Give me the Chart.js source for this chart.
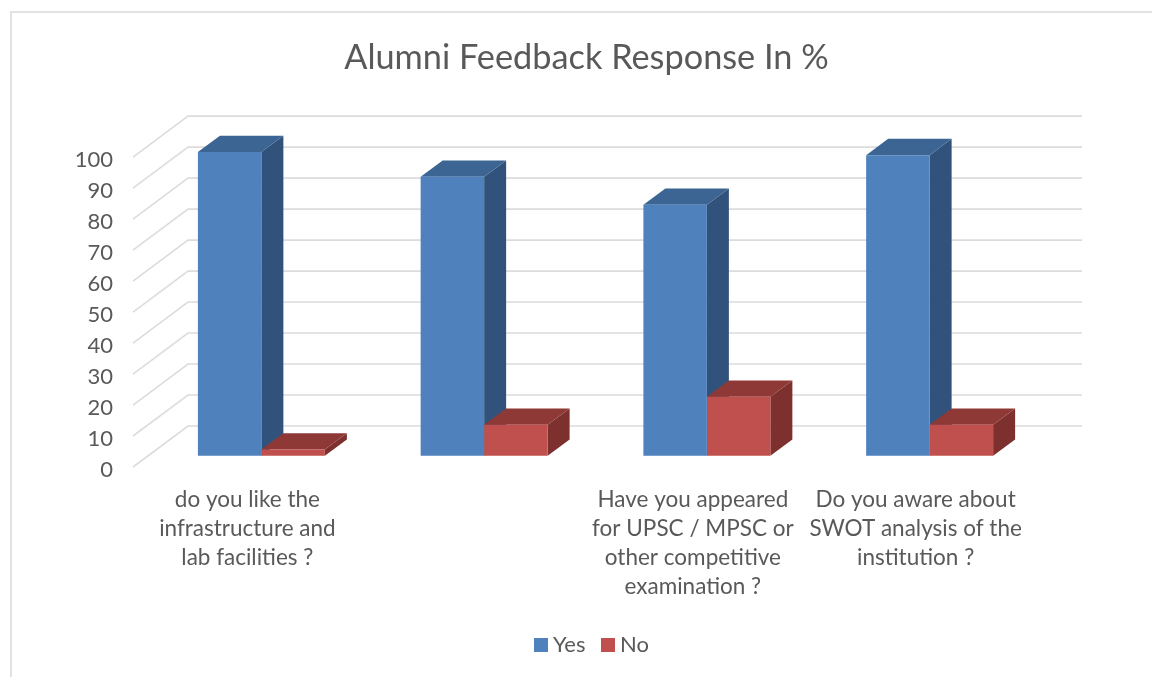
<!DOCTYPE html>
<html>
<head>
<meta charset="utf-8">
<script src="https://cdn.jsdelivr.net/npm/chart.js@4"></script>
<style>
  html, body { margin: 0; padding: 0; background: #fff; overflow: hidden; }
  #frame { position: absolute; left: 10px; top: 11px; right: 0; bottom: 0; border-left: 2px solid #e2e2e2; border-top: 2px solid #e2e2e2; }
  canvas { position: absolute; left: 0; top: 0; }
</style>
</head>
<body>
<div id="frame"></div>
<canvas id="chart" width="1152" height="677"></canvas>
<script>
var categories = [
  ["do you like the", "infrastructure and", "lab facilities ?"],
  "",
  ["Have you appeared", "for UPSC / MPSC or", "other competitive", "examination ?"],
  ["Do you aware about", "SWOT analysis of the", "institution ?"]
];
var yesValues = [98, 90, 81, 97];
var noValues = [2, 10, 19, 10];
var tickStep = 10;

var textColor = "#595959";
var gridColor = "#dcdcdc";
var fontName = "Lato, 'Open Sans', sans-serif";

// depth of the fake 3D box
var wallX = 55, wallY = 41, wallExtra = 3;
var planeX = 17, planeY = 11.3;
var barDepthX = 22, barDepthY = 16.3;
var faces = [
  { top: "#3c6594", side: "#31527a" },
  { top: "#8f3937", side: "#7d302e" }
];

var wallPlugin = {
  id: "wall",
  beforeDatasetsDraw: function (chart) {
    var ctx = chart.ctx, x = chart.scales.x, y = chart.scales.y;
    ctx.save();
    ctx.strokeStyle = gridColor;
    ctx.lineWidth = 1.6;
    y.ticks.forEach(function (tick) {
      var py = y.getPixelForValue(tick.value);
      ctx.beginPath();
      ctx.moveTo(x.left, py);
      ctx.lineTo(x.left + wallX, py - wallY);
      ctx.lineTo(x.right + wallX + wallExtra, py - wallY);
      ctx.stroke();
    });
    ctx.restore();

    // bars stand part way into the box, library draws the front faces after this
    ctx.save();
    ctx.translate(planeX, -planeY);
    chart.data.datasets.forEach(function (ds, d) {
      chart.getDatasetMeta(d).data.forEach(function (bar) {
        var l = bar.x - bar.width / 2, r = bar.x + bar.width / 2;
        ctx.fillStyle = faces[d].side;
        ctx.beginPath();
        ctx.moveTo(r, bar.y);
        ctx.lineTo(r + barDepthX, bar.y - barDepthY);
        ctx.lineTo(r + barDepthX, bar.base - barDepthY);
        ctx.lineTo(r, bar.base);
        ctx.closePath();
        ctx.fill();
        ctx.fillStyle = faces[d].top;
        ctx.beginPath();
        ctx.moveTo(l, bar.y);
        ctx.lineTo(r, bar.y);
        ctx.lineTo(r + barDepthX, bar.y - barDepthY);
        ctx.lineTo(l + barDepthX, bar.y - barDepthY);
        ctx.closePath();
        ctx.fill();
      });
    });
  },
  afterDatasetsDraw: function (chart) {
    chart.ctx.restore();
  }
};

// the built in legend leaves too wide a gap after the box
var keyPlugin = {
  id: "key",
  afterDraw: function (chart) {
    var ctx = chart.ctx, px = 534, py = 645;
    ctx.save();
    ctx.font = "22px " + fontName;
    ctx.textBaseline = "middle";
    chart.data.datasets.forEach(function (ds) {
      ctx.fillStyle = ds.backgroundColor;
      ctx.fillRect(px, py - 7, 14, 14);
      ctx.fillStyle = textColor;
      ctx.fillText(ds.label, px + 19, py);
      px += 67;
    });
    ctx.restore();
  }
};

new Chart(document.getElementById("chart"), {
  type: "bar",
  plugins: [wallPlugin, keyPlugin],
  data: {
    labels: categories,
    datasets: [
      { label: "Yes", data: yesValues, backgroundColor: "#4f81bd", clip: false },
      { label: "No", data: noValues, backgroundColor: "#c0504d", clip: false }
    ]
  },
  options: {
    responsive: false,
    animation: false,
    devicePixelRatio: 1,
    layout: { padding: { left: 21, right: 0, top: 0, bottom: 0 } },
    datasets: { bar: { categoryPercentage: 0.57, barPercentage: 1 } },
    plugins: {
      tooltip: { enabled: false },
      legend: { display: false },
      title: {
        display: true,
        text: "Alumni Feedback Response In %",
        color: textColor,
        font: { family: fontName, size: 34.3, weight: "normal" },
        padding: { top: 37, bottom: 79 }
      }
    },
    scales: {
      x: {
        grid: { display: false },
        border: { display: false },
        ticks: { color: textColor, maxRotation: 0, autoSkip: false, padding: 10, labelOffset: 3, font: { family: fontName, size: 22.5, lineHeight: 1.29 } },
        afterFit: function (s) { s.height = 210; }
      },
      y: {
        min: 0,
        max: 100,
        grid: { display: false },
        border: { display: false },
        ticks: { color: textColor, stepSize: tickStep, padding: 12, labelOffset: 2.5, font: { family: fontName, size: 22 } },
        afterFit: function (s) { s.width = 112; }
      },
      // empty axis, only keeps the plot off the right edge
      y2: {
        position: "right",
        min: 0,
        max: 100,
        grid: { display: false },
        border: { display: false },
        ticks: { display: false },
        afterFit: function (s) { s.width = 128; }
      }
    }
  }
});
</script>
</body>
</html>
